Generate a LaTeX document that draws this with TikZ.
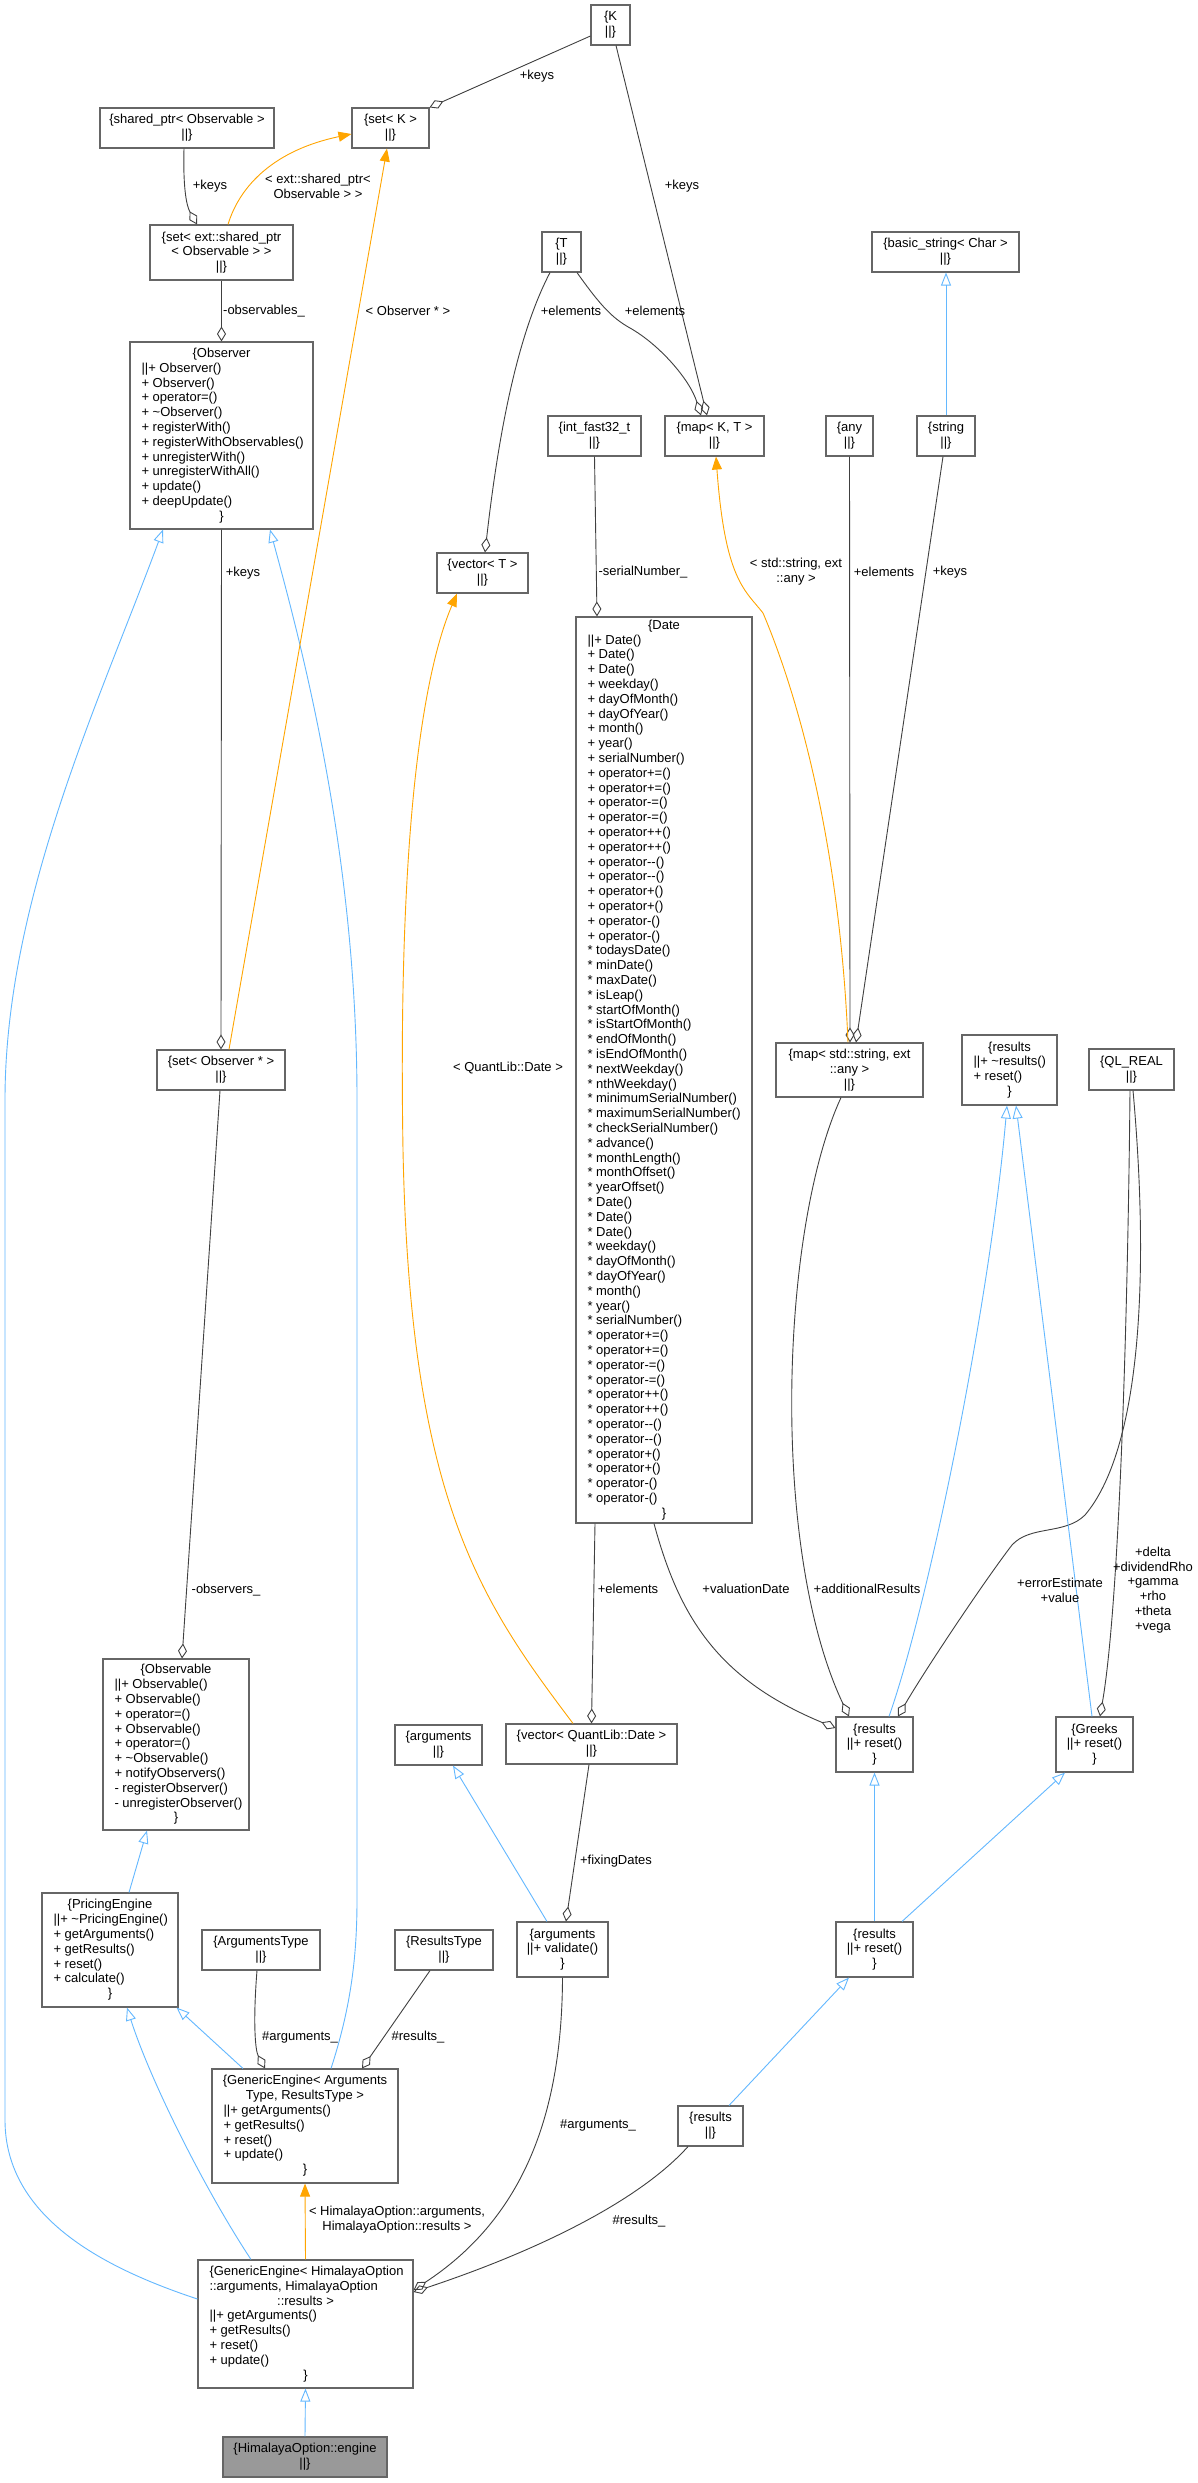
\documentclass[tikz,border=0pt]{standalone}
\usepackage{fontspec}
\setmainfont{Liberation Sans}
\usetikzlibrary{arrows.meta}
\definecolor{boxgray}{HTML}{666666}
\definecolor{aggr}{HTML}{404040}
\definecolor{inh}{HTML}{63B8FF}
\definecolor{tmpl}{HTML}{FFA500}
\definecolor{hl}{HTML}{999999}
\newcommand\umlfont{\fontsize{13}{14.8}\selectfont}
\newcommand\Lin[1]{\makebox[\ubtw pt][l]{#1}}
\newcommand\Cen[1]{\makebox[\ubtw pt][c]{#1}}
\newcommand\umlbox[7][]{%
 \pgfmathsetmacro\ubw{#5-#3}\pgfmathsetmacro\ubh{#6-#4}\pgfmathsetmacro\ubtw{#5-#3-23}%
 \pgfmathsetmacro\ubcx{(#3+#5)/2}\pgfmathsetmacro\ubcy{(#4+#6)/2}%
 \node[cls,align=left,minimum width=\ubw pt,minimum height=\ubh pt,#1] (#2) at (\ubcx,\ubcy) {#7};}
\newcommand\cbox[7][]{%
 \pgfmathsetmacro\ubw{#5-#3}\pgfmathsetmacro\ubh{#6-#4}%
 \pgfmathsetmacro\ubcx{(#3+#5)/2}\pgfmathsetmacro\ubcy{(#4+#6)/2}%
 \node[cls,align=center,minimum width=\ubw pt,minimum height=\ubh pt,#1] (#2) at (\ubcx,\ubcy) {#7};}
\begin{document}
\begin{tikzpicture}[x=1pt,y=-1pt,
 cls/.style={draw=boxgray,line width=1.1pt,fill=white,rectangle,inner sep=0pt,font=\umlfont},
 lbl/.style={inner sep=0pt,align=center,font=\umlfont},
 agg/.style={draw=aggr,line width=0.9pt,-{Diamond[open,length=15pt,width=9pt]}},
 inhe/.style={draw=inh,line width=0.9pt,-{Triangle[open,length=13pt,width=10pt]}},
 tpl/.style={draw=tmpl,line width=0.9pt,-{Triangle[length=13pt,width=10pt]}}]
\useasboundingbox (0,0) rectangle (1197,2483);
\fill[white] (0,0) rectangle (1197,2483);
% ---------- boxes ----------
\cbox{K}{591}{5}{630}{45}{\{K\\||\}}
\cbox{setK}{352}{108}{429}{148}{\{set< K >\\||\}}
\cbox{sharedptr}{100}{108}{274}{148}{\{shared\_ptr< Observable >\\||\}}
\cbox{setExt}{150}{225}{293}{280}{\{set< ext::shared\_ptr\\< Observable > >\\||\}}
\umlbox{Observer}{130}{342}{313}{529}{\Cen{\{Observer}\\
\Lin{||+ Observer()}\\
\Lin{+ Observer()}\\
\Lin{+ operator=()}\\
\Lin{+ \textasciitilde Observer()}\\
\Lin{+ registerWith()}\\
\Lin{+ registerWithObservables()}\\
\Lin{+ unregisterWith()}\\
\Lin{+ unregisterWithAll()}\\
\Lin{+ update()}\\
\Lin{+ deepUpdate()}\\
\Cen{\}}}
\cbox{T}{542}{232}{581}{272}{\{T\\||\}}
\cbox{basicstr}{872}{232}{1019}{272}{\{basic\_string< Char >\\||\}}
\cbox{intfast}{548}{416}{641}{456}{\{int\_fast32\_t\\||\}}
\cbox{mapKT}{665}{416}{764}{456}{\{map< K, T >\\||\}}
\cbox{any}{826}{416}{873}{456}{\{any\\||\}}
\cbox{string}{917}{416}{975}{456}{\{string\\||\}}
\cbox{vecT}{437}{553}{528}{593}{\{vector< T >\\||\}}
\umlbox{Date}{576}{617}{752}{1523}{\Cen{\{Date}\\
\Lin{||+ Date()}\\
\Lin{+ Date()}\\
\Lin{+ Date()}\\
\Lin{+ weekday()}\\
\Lin{+ dayOfMonth()}\\
\Lin{+ dayOfYear()}\\
\Lin{+ month()}\\
\Lin{+ year()}\\
\Lin{+ serialNumber()}\\
\Lin{+ operator+=()}\\
\Lin{+ operator+=()}\\
\Lin{+ operator-=()}\\
\Lin{+ operator-=()}\\
\Lin{+ operator++()}\\
\Lin{+ operator++()}\\
\Lin{+ operator-{}-()}\\
\Lin{+ operator-{}-()}\\
\Lin{+ operator+()}\\
\Lin{+ operator+()}\\
\Lin{+ operator-()}\\
\Lin{+ operator-()}\\
\Lin{* todaysDate()}\\
\Lin{* minDate()}\\
\Lin{* maxDate()}\\
\Lin{* isLeap()}\\
\Lin{* startOfMonth()}\\
\Lin{* isStartOfMonth()}\\
\Lin{* endOfMonth()}\\
\Lin{* isEndOfMonth()}\\
\Lin{* nextWeekday()}\\
\Lin{* nthWeekday()}\\
\Lin{* minimumSerialNumber()}\\
\Lin{* maximumSerialNumber()}\\
\Lin{* checkSerialNumber()}\\
\Lin{* advance()}\\
\Lin{* monthLength()}\\
\Lin{* monthOffset()}\\
\Lin{* yearOffset()}\\
\Lin{* Date()}\\
\Lin{* Date()}\\
\Lin{* Date()}\\
\Lin{* weekday()}\\
\Lin{* dayOfMonth()}\\
\Lin{* dayOfYear()}\\
\Lin{* month()}\\
\Lin{* year()}\\
\Lin{* serialNumber()}\\
\Lin{* operator+=()}\\
\Lin{* operator+=()}\\
\Lin{* operator-=()}\\
\Lin{* operator-=()}\\
\Lin{* operator++()}\\
\Lin{* operator++()}\\
\Lin{* operator-{}-()}\\
\Lin{* operator-{}-()}\\
\Lin{* operator+()}\\
\Lin{* operator+()}\\
\Lin{* operator-()}\\
\Lin{* operator-()}\\
\Cen{\}}}
\cbox{map2}{776}{1043}{923}{1097}{\{map< std::string, ext\\::any >\\||\}}
\umlbox{resTop}{962}{1035}{1057}{1105}{\Cen{\{results}\\\Lin{||+ \textasciitilde results()}\\\Lin{+ reset()}\\\Cen{\}}}
\cbox{qlreal}{1089}{1049}{1174}{1090}{\{QL\_REAL\\||\}}
\cbox{setObs}{157}{1050}{285}{1090}{\{set< Observer * >\\||\}}
\umlbox{Observable}{103}{1659}{249}{1830}{\Cen{\{Observable}\\
\Lin{||+ Observable()}\\
\Lin{+ Observable()}\\
\Lin{+ operator=()}\\
\Lin{+ Observable()}\\
\Lin{+ operator=()}\\
\Lin{+ \textasciitilde Observable()}\\
\Lin{+ notifyObservers()}\\
\Lin{- registerObserver()}\\
\Lin{- unregisterObserver()}\\
\Cen{\}}}
\cbox{args1}{395}{1725}{482}{1765}{\{arguments\\||\}}
\cbox{vecQD}{506}{1724}{677}{1764}{\{vector< QuantLib::Date >\\||\}}
\cbox{resMid}{836}{1717}{913}{1772}{\{results\\||+ reset()\\\}}
\cbox{greeks}{1056}{1717}{1133}{1772}{\{Greeks\\||+ reset()\\\}}
\umlbox{PricingEngine}{42}{1893}{178}{2007}{\Cen{\{PricingEngine}\\
\Lin{||+ \textasciitilde PricingEngine()}\\
\Lin{+ getArguments()}\\
\Lin{+ getResults()}\\
\Lin{+ reset()}\\
\Lin{+ calculate()}\\
\Cen{\}}}
\cbox{ArgsType}{202}{1930}{320}{1970}{\{ArgumentsType\\||\}}
\cbox{ResType}{395}{1930}{493}{1970}{\{ResultsType\\||\}}
\cbox{argval}{517}{1922}{608}{1977}{\{arguments\\||+ validate()\\\}}
\cbox{resLow}{836}{1922}{913}{1977}{\{results\\||+ reset()\\\}}
\cbox{resSmall}{678}{2106}{743}{2146}{\{results\\||\}}
\umlbox{GEargs}{212}{2069}{398}{2183}{\Cen{\{GenericEngine< Arguments}\\
\Cen{Type, ResultsType >}\\
\Lin{||+ getArguments()}\\
\Lin{+ getResults()}\\
\Lin{+ reset()}\\
\Lin{+ update()}\\
\Cen{\}}}
\umlbox{GEhim}{198}{2260}{413}{2388}{\Lin{\{GenericEngine< HimalayaOption}\\
\Lin{::arguments, HimalayaOption}\\
\Cen{::results >}\\
\Lin{||+ getArguments()}\\
\Lin{+ getResults()}\\
\Lin{+ reset()}\\
\Lin{+ update()}\\
\Cen{\}}}
\cbox[fill=hl]{engine}{223}{2437}{387}{2477}{\{HimalayaOption::engine\\||\}}
% ---------- aggregation ----------
\draw[agg] ([yshift=-11]K.west) -- (setK.north east);
\draw[agg] ([xshift=5.5]K.south) -- ([xshift=-7.5]mapKT.north);
\draw[agg] ([xshift=-3]sharedptr.south) .. controls (183,185) and (186,205) .. ([xshift=-24.5]setExt.north);
\draw[agg] (setExt.south) -- (Observer.north);
\draw[agg] ([xshift=-11.5]T.south) .. controls (520,330) and (500,420) .. ([xshift=2.5]vecT.north);
\draw[agg] ([xshift=15.5]T.south) .. controls (600,305) and (612,318) .. (630,328) .. controls (660,345) and (690,380) .. ([xshift=-13.5]mapKT.north);
\draw[agg] (intfast.south) -- ([xshift=-67]Date.north);
\draw[agg] (Observer.south) -- (setObs.north);
\draw[agg] ([xshift=-1]setObs.south) -- ([xshift=6]Observable.north);
\draw[agg] (any.south) -- ([xshift=0.5]map2.north);
\draw[agg] ([xshift=-3]string.south) -- ([xshift=6.5]map2.north);
\draw[agg] ([xshift=-69]Date.south) -- (vecQD.north);
\draw[agg] ([xshift=-10]Date.south) .. controls (680,1620) and (720,1680) .. ([yshift=16.5]resMid.west);
\draw[agg] ([xshift=-8.5]map2.south) .. controls (780,1230) and (770,1550) .. ([xshift=-25.5]resMid.north);
\draw[agg] ([xshift=1.5]qlreal.south) .. controls (1150,1280) and (1140,1450) .. (1085,1515) .. controls (1065,1535) and (1030,1525) .. (1012,1545) .. controls (985,1580) and (925,1670) .. ([xshift=23.5]resMid.north);
\draw[agg] ([xshift=-1.5]qlreal.south) .. controls (1128,1300) and (1120,1600) .. ([xshift=5.5]greeks.north);
\draw[agg] ([xshift=-2.5]vecQD.south) -- ([xshift=3.5]argval.north);
\draw[agg] ([xshift=-4]ArgsType.south) .. controls (253,2020) and (255,2050) .. ([xshift=-40]GEargs.north);
\draw[agg] ([xshift=-14]ResType.south) -- ([xshift=57]GEargs.north);
\draw[agg] (argval.south) .. controls (562,2120) and (520,2220) .. ([yshift=34]GEhim.east);
\draw[agg] ([xshift=-22.5]resSmall.south) .. controls (640,2200) and (540,2250) .. ([yshift=32]GEhim.east);
% ---------- inheritance ----------
\draw[inhe] (string.north) -- (string.north |- basicstr.south);
\draw[inhe] ([xshift=26]GEargs.north) .. controls (350,2010) and (357,1960) .. (357,1900) -- (357,1100) .. controls (357,850) and (300,640) .. ([xshift=48.5]Observer.south);
\draw[inhe] ([yshift=25]GEhim.west) .. controls (110,2270) and (5,2220) .. (5,2120) -- (5,1100) .. controls (5,900) and (100,700) .. ([xshift=-58.5]Observer.south);
\draw[inhe] ([xshift=19]PricingEngine.north) -- ([xshift=-29]Observable.south);
\draw[inhe] ([xshift=-62]GEargs.north) -- ([xshift=-2]PricingEngine.south east);
\draw[inhe] ([xshift=-54.5]GEhim.north) .. controls (205,2190) and (150,2080) .. ([xshift=17]PricingEngine.south);
\draw[inhe] ([xshift=-15.5]argval.north) -- ([xshift=14.5]args1.south);
\draw[inhe] ([xshift=14.5]resMid.north) .. controls (930,1600) and (990,1300) .. ([xshift=-2.5]resTop.south);
\draw[inhe] ([xshift=-2.5]greeks.north) -- ([xshift=6.5]resTop.south);
\draw[inhe] (resLow.north) -- (resMid.south);
\draw[inhe] ([xshift=27.5]resLow.north) -- ([xshift=-29.5]greeks.south);
\draw[inhe] ([xshift=18.5]resSmall.north) -- ([xshift=-25.5]resLow.south);
\draw[inhe] (engine.north) -- (GEhim.south);
% ---------- template ----------
\draw[tpl] ([xshift=6.5]setExt.north) .. controls (240,185) and (275,150) .. ([yshift=-6]setK.west);
\draw[tpl] ([xshift=8]setObs.north) -- ([xshift=-3.5]setK.south);
\draw[tpl] ([xshift=-18.5]vecQD.north) .. controls (480,1600) and (410,1500) .. (403,1150) .. controls (398,850) and (420,680) .. ([xshift=-25.5]vecT.south);
\draw[tpl] ([xshift=-1.5]map2.north) .. controls (840,850) and (800,700) .. (763,613) .. controls (745,590) and (725,580) .. ([xshift=1.5]mapKT.south);
\draw[tpl] (GEhim.north) -- (GEargs.south);
% ---------- labels ----------
\node[lbl] (l1) at (537,76) {+keys};
\node[lbl] (l2) at (682,186) {+keys};
\node[lbl] (l3) at (210,186) {+keys};
\node[lbl] (l4) at (318,186) {< ext::shared\_ptr<\\Observable > >};
\node[lbl] (l5) at (264,311) {-observables\_};
\node[lbl] (l6) at (408,311) {< Observer * >};
\node[lbl] (l7) at (571,311) {+elements};
\node[lbl] (l8) at (655,311) {+elements};
\node[lbl] (l9) at (243,573) {+keys};
\node[lbl] (l10) at (643,572) {-serialNumber\_};
\node[lbl] (l11) at (796,572) {< std::string, ext\\::any >};
\node[lbl] (l12) at (884,572) {+elements};
\node[lbl] (l13) at (950,572) {+keys};
\node[lbl] (l14) at (508,1068) {< QuantLib::Date >};
\node[lbl] (l15) at (226,1590) {-observers\_};
\node[lbl] (l16) at (628,1589) {+elements};
\node[lbl] (l17) at (746,1589) {+valuationDate};
\node[lbl] (l18) at (867,1589) {+additionalResults};
\node[lbl] (l19) at (1060,1590) {+errorEstimate\\+value};
\node[lbl] (l20) at (1153,1590) {+delta\\+dividendRho\\+gamma\\+rho\\+theta\\+vega};
\node[lbl] (l21) at (616,1861) {+fixingDates};
\node[lbl] (l22) at (300,2037) {\#arguments\_};
\node[lbl] (l23) at (418,2037) {\#results\_};
\node[lbl] (l24) at (598,2125) {\#arguments\_};
\node[lbl] (l25) at (397,2220) {< HimalayaOption::arguments,\\HimalayaOption::results >};
\node[lbl] (l26) at (639,2221) {\#results\_};
\end{tikzpicture}
\end{document}
